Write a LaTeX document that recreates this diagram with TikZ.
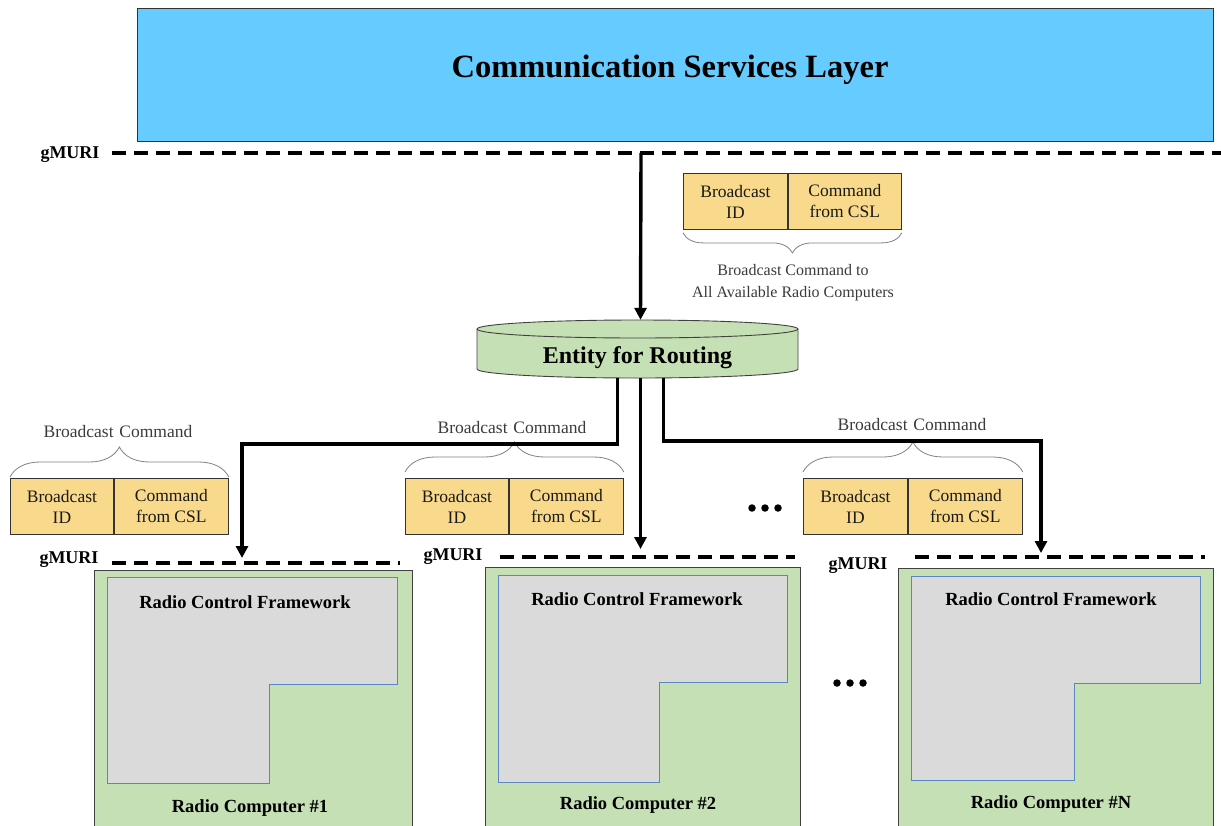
\documentclass[tikz,border=0pt]{standalone}
\usepackage{fontspec}
\setmainfont{Liberation Serif}
\usetikzlibrary{arrows.meta,decorations.pathreplacing,calc}
\definecolor{cslblue}{HTML}{66CCFF}
\definecolor{lgreen}{HTML}{C5E0B4}
\definecolor{pkt}{HTML}{F9D98B}
\definecolor{rcfgray}{HTML}{DADADA}
\definecolor{rcfblue}{HTML}{5B86C0}
\definecolor{txtgray}{HTML}{3A3A3A}
\begin{document}
\begin{tikzpicture}[x=1pt,y=-1pt,
  pktbox/.style={draw=black!80, line width=0.9pt, fill=pkt, minimum height=56pt, inner sep=0pt, align=center, font=\fontsize{17.5}{21}\selectfont, text=black!90, anchor=north west},
  arr/.style={line width=3.4pt, -{Triangle[length=12pt,width=12pt]}},
  gline/.style={line width=3.4pt, dash pattern=on 14pt off 8pt},
  bracestyle/.style={draw=black!50, line width=0.8pt, decorate, decoration={brace, amplitude=#1}},
  blabel/.style={font=\fontsize{17.5}{21}\selectfont, text=txtgray, align=center, inner sep=0pt},
  glabel/.style={font=\fontsize{18}{20}\selectfont\bfseries, inner sep=0pt},
  rcbox/.style={draw=black!75, line width=0.9pt, fill=lgreen, anchor=north west, inner sep=0pt},
  rcf/.style={draw=rcfblue, line width=0.9pt, fill=rcfgray},
  rctext/.style={font=\fontsize{18.5}{20}\selectfont\bfseries, inner sep=0pt},
  dot/.style={fill=black, circle, inner sep=0pt, minimum size=7.5pt}
]
\useasboundingbox (0,0) rectangle (1221,825);
\clip (0,0) rectangle (1221,825);

% Communication Services Layer
\node[draw=black!80, line width=1.1pt, fill=cslblue, minimum width=1076pt, minimum height=133pt, anchor=north west, inner sep=0pt] (csl) at (137,8) {};
\node[font=\fontsize{32.5}{36}\selectfont\bfseries, inner sep=0pt] (csltext) at (670,70) {Communication Services Layer};

% top gMURI
\node[glabel] (gm0) at (70,155) {gMURI};
\draw[gline] (112,153) -- (1225,153);
\coordinate (gtop) at (641,153);

% Entity for routing (cylinder)
\path[fill=lgreen, draw=black!75, line width=0.9pt] (477,329) -- (477,369) arc[start angle=180, end angle=360, x radius=160.5pt, y radius=9pt] -- (798,329);
\draw[fill=lgreen, draw=black!75, line width=0.9pt] (637.5,329) ellipse [x radius=160.5pt, y radius=9pt];
\node[minimum width=321pt, minimum height=49pt, inner sep=0pt] (er) at (637.5,353.5) {};
\node[font=\fontsize{24}{26}\selectfont\bfseries, inner sep=0pt] (ert) at (637.5,358) {Entity for Routing};

\draw[arr] (gtop) -- ([xshift=3pt,yshift=9pt]er.north);

% top packet
\node[pktbox, minimum width=104pt] (p0a) at (683,173) {Broadcast\\ID};
\node[pktbox, minimum width=113pt] (p0b) at (p0a.north east) {Command\\from CSL};
\draw[bracestyle=20pt] ([yshift=-3pt]p0b.south east) -- ([yshift=-3pt]p0a.south west);
\node[blabel, font=\fontsize{16}{22}\selectfont] (l0) at (793,283) {Broadcast Command to\\All Available Radio Computers};

% lower packets
\node[pktbox, minimum width=103pt] (p1a) at (10,478) {Broadcast\\ID};
\node[pktbox, minimum width=114pt] (p1b) at (p1a.north east) {Command\\from CSL};
\draw[bracestyle=30pt] ([yshift=1pt]p1a.north west) -- ([yshift=1pt]p1b.north east);
\node[blabel] (l1) at (118,432) {Broadcast\,\,Command};

\node[pktbox, minimum width=103pt] (p2a) at (405,478) {Broadcast\\ID};
\node[pktbox, minimum width=114pt] (p2b) at (p2a.north east) {Command\\from CSL};
\draw[bracestyle=30pt] ([yshift=6pt]p2a.north west) -- ([yshift=6pt]p2b.north east);
\node[blabel] (l2) at (512,428) {Broadcast\,\,Command};

\node[pktbox, minimum width=104pt] (p3a) at (803,478) {Broadcast\\ID};
\node[pktbox, minimum width=114pt] (p3b) at (p3a.north east) {Command\\from CSL};
\draw[bracestyle=30pt] ([yshift=6pt]p3a.north west) -- ([yshift=6pt]p3b.north east);
\node[blabel] (l3) at (912,425) {Broadcast\,\,Command};

% dots
\node[dot] (d1) at (752,508) {};
\node[dot] (d2) at (765,508) {};
\node[dot] (d3) at (778,508) {};
\node[dot] (d4) at (837,683) {};
\node[dot] (d5) at (850,683) {};
\node[dot] (d6) at (863,683) {};

% lower gMURI lines
\node[glabel] (gm1) at (69,560) {gMURI};
\draw[gline] (112,563) -- (400,563);
\node[glabel] (gm2) at (453,557) {gMURI};
\draw[gline] (500,557) -- (795,557);
\node[glabel] (gm3) at (858,566) {gMURI};
\draw[gline] (915,557) -- (1205,557);

\coordinate (t1) at (242,558);
\coordinate (t2) at (640.5,549);
\coordinate (t3) at (1041,553);

% routing arrows
\draw[arr] ([xshift=-20pt]er.south) |- (242,444) -- (t1);
\draw[arr] ([xshift=3pt]er.south) -- (t2);
\draw[arr] ([xshift=26pt]er.south) |- (1041,441) -- (t3);

% Radio computers
\node[rcbox, minimum width=318pt, minimum height=262pt] (rc1) at (94,570) {};
\draw[rcf] (107,577) -- (397,577) -- (397,684) -- (269,684) -- (269,783) -- (107,783) -- cycle;
\node[rctext] (rcf1) at (245,602) {Radio Control Framework};
\node[rctext] (rcn1) at (250,808) {Radio Computer \#1};

\node[rcbox, minimum width=315pt, minimum height=265pt] (rc2) at (485,567) {};
\draw[rcf] (498,575) -- (787,575) -- (787,682) -- (659,682) -- (659,782) -- (498,782) -- cycle;
\node[rctext] (rcf2) at (637,599) {Radio Control Framework};
\node[rctext] (rcn2) at (638,805) {Radio Computer \#2};

\node[rcbox, minimum width=315pt, minimum height=264pt] (rc3) at (898,568) {};
\draw[rcf] (911,576) -- (1200,576) -- (1200,683) -- (1074,683) -- (1074,780) -- (911,780) -- cycle;
\node[rctext] (rcf3) at (1051,599) {Radio Control Framework};
\node[rctext] (rcn3) at (1051,804) {Radio Computer \#N};
\end{tikzpicture}
\end{document}
